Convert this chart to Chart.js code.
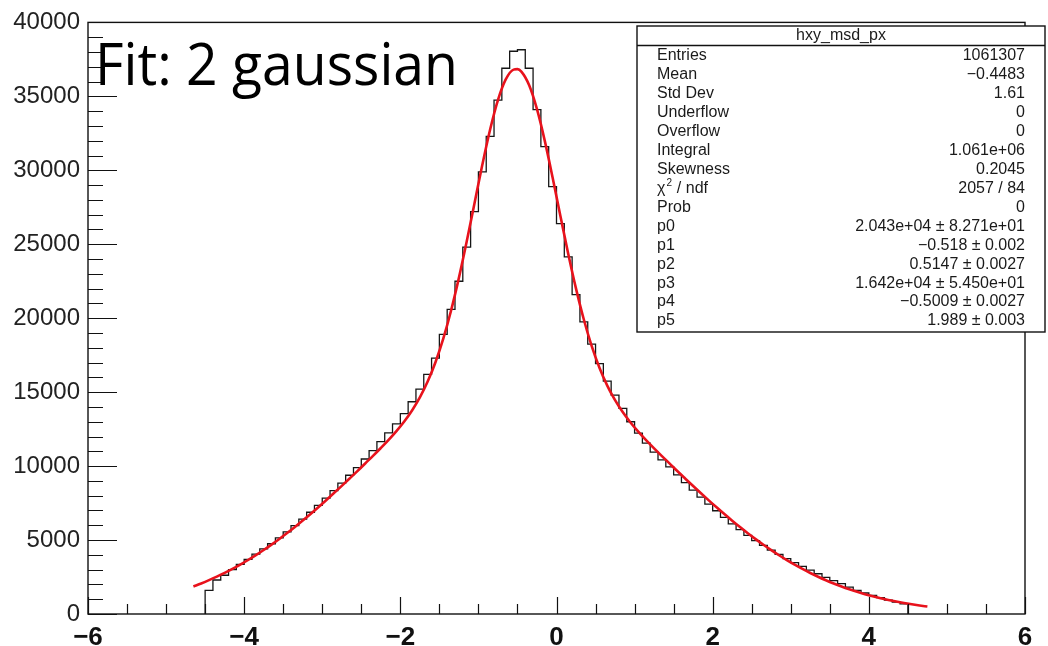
<!DOCTYPE html>
<html>
<head>
<meta charset="utf-8">
<script src="https://cdn.jsdelivr.net/npm/chart.js@4.4.1/dist/chart.umd.min.js"></script>
<style>
  html, body { margin: 0; padding: 0; background: #fff; }
  #wrap { width: 1048px; height: 646px; position: relative; }
</style>
</head>
<body>
<div id="wrap"><canvas id="hxy"></canvas></div>
<script>
// hxy_msd_px : 90 bins of 0.1 from -4.5 to 4.5
const binLow = -4.5;
const binWidth = 0.1;
const binCounts = [
    1600, 2300, 2620, 3000, 3350, 3700, 4050, 4400, 4750, 5150,
    5550, 5980, 6420, 6880, 7350, 7830, 8340, 8850, 9380, 9900,
    10480, 11050, 11650, 12250, 12850, 13550, 14350, 15200, 16200, 17300,
    18900, 20600, 22500, 24800, 27200, 29900, 32300, 34750, 36900, 38050,
    38150, 36900, 34100, 31600, 28900, 26400, 24150, 21600, 19750, 18250,
    16930, 15750, 14800, 13900, 13000, 12230, 11560, 10950, 10420, 9950,
    9400, 8880, 8380, 7900, 7430, 6980, 6530, 6100, 5700, 5320,
    4960, 4640, 4320, 4030, 3750, 3480, 3220, 2960, 2720, 2480,
    2250, 2050, 1820, 1600, 1420, 1260, 1110, 940, 800, 680
];

// 2 gaussian fit curve, sampled over the fit range
const fitX = [
    -4.65, -4.55, -4.45, -4.35, -4.25, -4.15, -4.05, -3.95, -3.85, -3.75,
    -3.65, -3.55, -3.45, -3.35, -3.25, -3.15, -3.05, -2.95, -2.85, -2.75,
    -2.65, -2.55, -2.45, -2.35, -2.25, -2.15, -2.05, -1.95, -1.85, -1.75,
    -1.65, -1.55, -1.45, -1.35, -1.25, -1.15, -1.05, -0.95, -0.85, -0.75,
    -0.65, -0.55, -0.50, -0.45, -0.35, -0.25, -0.15, -0.05, 0.05, 0.15,
    0.25, 0.35, 0.45, 0.55, 0.65, 0.75, 0.85, 0.95, 1.05, 1.15,
    1.25, 1.35, 1.45, 1.55, 1.65, 1.75, 1.85, 1.95, 2.05, 2.15,
    2.25, 2.35, 2.45, 2.55, 2.65, 2.75, 2.85, 2.95, 3.05, 3.15,
    3.25, 3.35, 3.45, 3.55, 3.65, 3.75, 3.85, 3.95, 4.05, 4.15,
    4.25, 4.35, 4.45, 4.55, 4.65, 4.75
];
const fitY = [
    1864, 2067, 2287, 2525, 2779, 3051, 3341, 3651, 3979, 4325,
    4690, 5071, 5471, 5887, 6318, 6764, 7223, 7694, 8176, 8665,
    9159, 9660, 10179, 10694, 11226, 11777, 12369, 13019, 13764, 14645,
    15714, 17024, 18619, 20523, 22728, 25182, 27780, 30370, 32760, 34748,
    36142, 36806, 36838, 36667, 35743, 34130, 31989, 29515, 26914, 24363,
    22002, 19911, 18131, 16654, 15445, 14455, 13634, 12934, 12313, 11741,
    11201, 10678, 10164, 9648, 9149, 8655, 8166, 7685, 7213, 6755,
    6309, 5878, 5462, 5062, 4681, 4318, 3972, 3645, 3335, 3046,
    2774, 2521, 2283, 2063, 1860, 1673, 1501, 1343, 1199, 1067,
    948, 839, 741, 653, 574, 504
];

const statTitle = 'hxy_msd_px';
const statNames = ['Entries', 'Mean', 'Std Dev', 'Underflow', 'Overflow', 'Integral', 'Skewness',
    'χ2 / ndf', 'Prob', 'p0', 'p1', 'p2', 'p3', 'p4', 'p5'];
const statValues = ['1061307', '−0.4483', '1.61', '0', '0', '1.061e+06', '0.2045',
    '2057 / 84', '0', '2.043e+04 ± 8.271e+01', '−0.518 ± 0.002', '0.5147 ± 0.0027',
    '1.642e+04 ± 5.450e+01', '−0.5009 ± 0.0027', '1.989 ± 0.003'];

const fitLabel = 'Fit: 2 gaussian';

// histogram outline as a step line: each point holds its bin value up to the next edge
const histPoints = [{ x: binLow, y: 0 }];
binCounts.forEach((c, i) => histPoints.push({ x: binLow + i * binWidth, y: c }));
const binHigh = binLow + binCounts.length * binWidth;
histPoints.push({ x: binHigh, y: binCounts[binCounts.length - 1] });
histPoints.push({ x: binHigh, y: 0 });

const fitPoints = fitX.map((x, i) => ({ x: x, y: fitY[i] }));

const AXIS_FONT = '"Liberation Sans", Arial, Helvetica, sans-serif';

// ROOT style frame: box, inner ticks, stats box and the overlay caption
const rootFrame = {
    id: 'rootFrame',
    afterDatasetsDraw(chart) {
        const ctx = chart.ctx;
        const a = chart.chartArea;
        const xs = chart.scales.x, ys = chart.scales.y;
        ctx.save();
        ctx.strokeStyle = '#111';
        ctx.lineWidth = 1.4;
        ctx.strokeRect(a.left, a.top, a.right - a.left, a.bottom - a.top);

        ctx.lineWidth = 1.2;
        ctx.beginPath();
        for (let v = xs.min; v <= xs.max + 1e-9; v += 0.5) {
            const px = Math.round(xs.getPixelForValue(v)) + 0.5;
            const major = Math.abs(v / 2 - Math.round(v / 2)) < 1e-6;
            ctx.moveTo(px, a.bottom);
            ctx.lineTo(px, a.bottom - (major ? 17 : 10));
        }
        for (let v = ys.min; v <= ys.max + 1e-9; v += 1000) {
            const py = Math.round(ys.getPixelForValue(v)) + 0.5;
            const major = v % 5000 === 0;
            ctx.moveTo(a.left, py);
            ctx.lineTo(a.left + (major ? 29 : 15), py);
        }
        ctx.stroke();
        ctx.restore();
    },
    afterDraw(chart) {
        const ctx = chart.ctx;
        ctx.save();

        // stats box
        const bx = 637, by = 26, bw = 408, bh = 306;
        ctx.fillStyle = '#fff';
        ctx.fillRect(bx, by, bw, bh);
        ctx.strokeStyle = '#111';
        ctx.lineWidth = 1.4;
        ctx.strokeRect(bx, by, bw, bh);
        ctx.beginPath();
        ctx.moveTo(bx, 45.5);
        ctx.lineTo(bx + bw, 45.5);
        ctx.stroke();

        ctx.fillStyle = '#1a1a1a';
        ctx.font = '16px ' + AXIS_FONT;
        ctx.textBaseline = 'middle';
        ctx.textAlign = 'center';
        ctx.fillText(statTitle, bx + bw / 2, 36);

        statNames.forEach((name, i) => {
            const y = 55.7 + i * 18.95;
            ctx.textAlign = 'left';
            if (name.startsWith('χ2')) {
                ctx.fillText('χ', 657, y);
                const w = ctx.measureText('χ').width;
                ctx.font = '10px ' + AXIS_FONT;
                ctx.fillText('2', 657 + w + 1, y - 5);
                ctx.font = '16px ' + AXIS_FONT;
                ctx.fillText(' / ndf', 657 + w + 7, y);
            } else {
                ctx.fillText(name, 657, y);
            }
            ctx.textAlign = 'right';
            ctx.fillText(statValues[i], 1025, y);
        });

        // caption over the top left of the pad
        ctx.fillStyle = '#000';
        ctx.font = '58px "Open Sans", "Noto Sans", sans-serif';
        ctx.textAlign = 'left';
        ctx.textBaseline = 'alphabetic';
        const natural = ctx.measureText(fitLabel).width;
        const target = 363;
        ctx.translate(95, 85);
        ctx.scale(target / natural, 1);
        ctx.fillText(fitLabel, 0, 0);
        ctx.restore();
    }
};

new Chart(document.getElementById('hxy'), {
    type: 'line',
    data: {
        datasets: [
            {
                label: 'fit',
                data: fitPoints,
                borderColor: 'rgb(232, 18, 28)',
                borderWidth: 2.6,
                pointRadius: 0,
                cubicInterpolationMode: 'monotone',
                fill: false,
                order: 0
            },
            {
                label: 'hxy_msd_px',
                data: histPoints,
                borderColor: '#161616',
                borderWidth: 1.3,
                pointRadius: 0,
                stepped: true,
                fill: false,
                order: 1
            }
        ]
    },
    options: {
        responsive: true,
        maintainAspectRatio: false,
        animation: false,
        layout: { padding: { top: 18, right: 23, left: 0, bottom: 0 } },
        plugins: {
            legend: { display: false },
            tooltip: { enabled: false }
        },
        scales: {
            x: {
                type: 'linear',
                min: -6,
                max: 6,
                afterFit: s => { s.height = 32; },
                grid: { display: false, drawTicks: false },
                border: { display: false },
                ticks: {
                    stepSize: 2,
                    padding: 8,
                    color: '#111',
                    font: { family: AXIS_FONT, size: 26, weight: 'bold' },
                    callback: v => String(v).replace('-', '−')
                }
            },
            y: {
                type: 'linear',
                min: 0,
                max: 40000,
                afterFit: s => { s.width = 88; },
                grid: { display: false, drawTicks: false },
                border: { display: false },
                ticks: {
                    stepSize: 5000,
                    padding: 8,
                    color: '#222',
                    font: { family: AXIS_FONT, size: 24 },
                    callback: v => String(v)
                }
            }
        }
    },
    plugins: [rootFrame]
});
</script>
</body>
</html>
